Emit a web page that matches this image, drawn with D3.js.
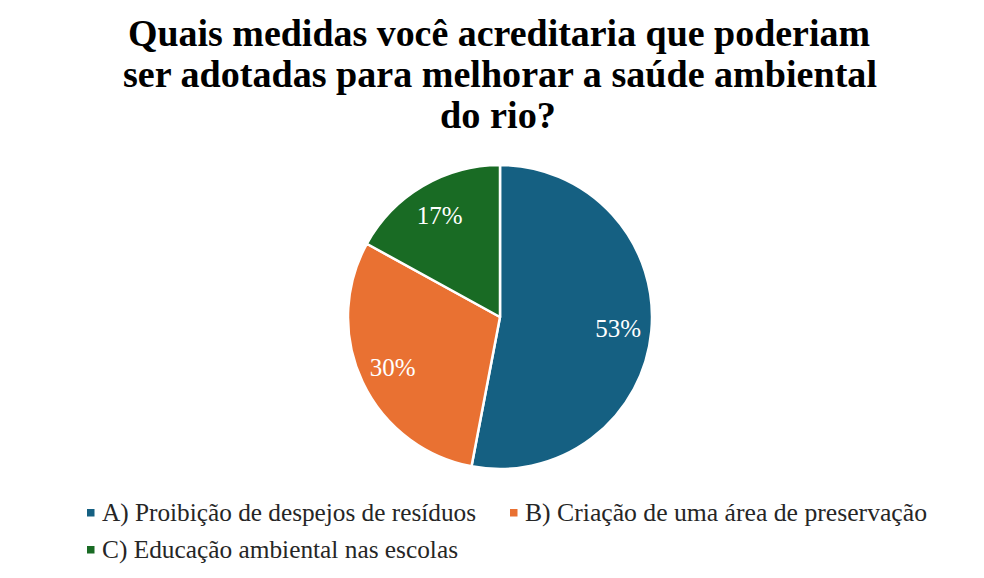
<!DOCTYPE html>
<html>
<head>
<meta charset="utf-8">
<script src="https://cdn.jsdelivr.net/npm/d3@7"></script>
<style>
  body { margin: 0; background: #fff; }
  svg { display: block; }
</style>
</head>
<body>
<svg id="chart"></svg>
<script>
// data
const categories = [
    "A) Proibição de despejos de resíduos",
    "B) Criação de uma área de preservação",
    "C) Educação ambiental nas escolas"
];
const values = [53, 30, 17];
const colors = ["#156082", "#E97132", "#196B24"];
const titleLines = [
    "Quais medidas você acreditaria que poderiam",
    "ser adotadas para melhorar a saúde ambiental",
    "do rio?"
];

const width = 984, height = 578;
const serif = "'Liberation Serif', 'Times New Roman', serif";

const svg = d3.select("#chart")
    .attr("width", width)
    .attr("height", height);

svg.append("rect")
    .attr("width", width)
    .attr("height", height)
    .attr("fill", "#fff");

// title - condensed bold serif, squeezed to the widths in the picture
const titleBox = [
    { x: 128, w: 742 },
    { x: 123, w: 754 },
    { x: 440, w: 116 }
];
svg.append("g")
    .selectAll("text")
    .data(titleLines)
    .join("text")
    .attr("x", (d, i) => titleBox[i].x)
    .attr("y", (d, i) => 46 + i * 41)
    .style("font-family", serif)
    .attr("font-weight", "bold")
    .attr("font-size", 38)
    .attr("fill", "#000")
    .attr("textLength", (d, i) => titleBox[i].w)
    .attr("lengthAdjust", "spacingAndGlyphs")
    .text(d => d);

// pie
const cx = 500, cy = 317, radius = 152;

const pie = d3.pie().sort(null).value(d => d);
const arc = d3.arc().innerRadius(0).outerRadius(radius);
const labelArc = d3.arc().innerRadius(radius * 0.78).outerRadius(radius * 0.78);

const pieG = svg.append("g")
    .attr("transform", `translate(${cx},${cy})`);

const arcs = pie(values);

pieG.selectAll("path")
    .data(arcs)
    .join("path")
    .attr("d", arc)
    .attr("fill", (d, i) => colors[i])
    .attr("stroke", "#fff")
    .attr("stroke-width", 2.5)
    .attr("stroke-linejoin", "round");

pieG.selectAll("text")
    .data(arcs)
    .join("text")
    .attr("transform", d => `translate(${labelArc.centroid(d)})`)
    .attr("text-anchor", "middle")
    .attr("dy", "0.35em")
    .style("font-family", serif)
    .attr("font-size", 25)
    .attr("fill", "#fff")
    .text(d => d.data + "%");

// legend
const legendPos = [
    { x: 87, y: 513, w: 374 },
    { x: 510, y: 513, w: 402 },
    { x: 87, y: 550, w: 356 }
];

const legend = svg.append("g")
    .selectAll("g")
    .data(categories)
    .join("g")
    .attr("transform", (d, i) => `translate(${legendPos[i].x},${legendPos[i].y})`);

legend.append("rect")
    .attr("x", 0)
    .attr("y", -4)
    .attr("width", 7.5)
    .attr("height", 7.5)
    .attr("fill", (d, i) => colors[i]);

legend.append("text")
    .attr("x", 15)
    .attr("y", 0)
    .attr("dy", "0.33em")
    .style("font-family", serif)
    .attr("font-size", 25)
    .attr("fill", "#262626")
    .attr("textLength", (d, i) => legendPos[i].w)
    .attr("lengthAdjust", "spacingAndGlyphs")
    .text(d => d);
</script>
</body>
</html>
